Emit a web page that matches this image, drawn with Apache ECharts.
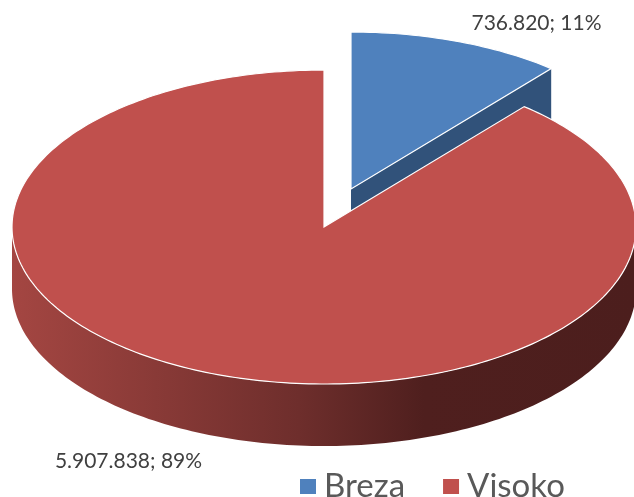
<!DOCTYPE html>
<html>
<head>
<meta charset="utf-8">
<script src="https://cdn.jsdelivr.net/npm/echarts@6/dist/echarts.min.js"></script>
<style>
html, body { margin: 0; padding: 0; background: #fff; }
#main { width: 634px; height: 497px; }
</style>
</head>
<body>
<div id="main"></div>
<script>
var names = ['Breza', 'Visoko'];
var values = [736820, 5907838];

// looks
var topColors = ['#4f81bd', '#c0504d'];
var cutColors = ['#31527a', '#6e2e2c'];
var explode = [[27, -38], [0, 0]];
var labelShift = [[79, -18], [-89, 87]];

var CX = 324, CY = 227, RX = 312, RY = 157, DEPTH = 62;
var PI = Math.PI;

var total = values.reduce(function (a, b) { return a + b; }, 0);

function fmt(v) {
    return String(v).replace(/\B(?=(\d{3})+(?!\d))/g, '.');
}

function pt(cx, cy, a, dy) {
    return [cx + RX * Math.sin(a), cy - RY * Math.cos(a) + (dy || 0)];
}

function arcPts(cx, cy, a0, a1, dy) {
    var n = Math.max(2, Math.ceil(Math.abs(a1 - a0) / 0.02));
    var out = [];
    for (var k = 0; k <= n; k++) {
        out.push(pt(cx, cy, a0 + (a1 - a0) * k / n, dy));
    }
    return out;
}

function wallFill(i) {
    if (i === 0) return cutColors[0];
    return new echarts.graphic.LinearGradient(0, 0, 1, 0, [
        {offset: 0, color: '#a44642'},
        {offset: 0.46, color: '#6e2e2c'},
        {offset: 0.66, color: '#4f1f1e'},
        {offset: 1, color: '#4c1e1d'}
    ]);
}

function makeRender(i) {
    return function (params, api) {
        var before = 0;
        for (var j = 0; j < i; j++) before += values[j];
        var a0 = before / total * 2 * PI;
        var a1 = (before + values[i]) / total * 2 * PI;
        var cx = CX + explode[i][0], cy = CY + explode[i][1];
        var children = [];

        // front wall
        var w0 = Math.max(a0, PI / 2), w1 = Math.min(a1, 3 * PI / 2);
        if (w1 > w0) {
            var up = arcPts(cx, cy, w0, w1, 0);
            var down = arcPts(cx, cy, w1, w0, DEPTH);
            children.push({
                type: 'polygon',
                shape: {points: up.concat(down)},
                style: {fill: wallFill(i)}
            });
        }
        // cut faces
        if (Math.sin(a1) > 1e-6) {
            var p = pt(cx, cy, a1, 0);
            children.push({
                type: 'polygon',
                shape: {points: [[cx, cy], p, [p[0], p[1] + DEPTH], [cx, cy + DEPTH]]},
                style: {fill: cutColors[i]}
            });
        }
        if (Math.sin(a0) < -1e-6) {
            var q = pt(cx, cy, a0, 0);
            children.push({
                type: 'polygon',
                shape: {points: [[cx, cy], q, [q[0], q[1] + DEPTH], [cx, cy + DEPTH]]},
                style: {fill: cutColors[i]}
            });
        }
        // top face
        children.push({
            type: 'polygon',
            shape: {points: [[cx, cy]].concat(arcPts(cx, cy, a0, a1, 0))},
            style: {fill: topColors[i], stroke: '#ffffff', lineWidth: 1.2}
        });
        // label
        var r = pt(cx, cy, (a0 + a1) / 2, 0);
        children.push({
            type: 'text',
            x: r[0] + labelShift[i][0],
            y: r[1] + labelShift[i][1],
            style: {
                text: fmt(values[i]) + '; ' + Math.round(values[i] / total * 100) + '%',
                fill: '#404040',
                font: '21px Lato',
                align: 'center',
                verticalAlign: 'middle'
            }
        });
        return {type: 'group', children: children};
    };
}

var myChart = echarts.init(document.getElementById('main'));

var option = {
    animation: false,
    legend: {
        data: names,
        left: 295,
        top: 465,
        icon: 'rect',
        itemWidth: 16,
        itemHeight: 15,
        itemGap: 38,
        selectedMode: false,
        textStyle: {
            fontSize: 33,
            fontFamily: 'Lato',
            color: '#595959',
            padding: [0, 0, 0, 3]
        }
    },
    series: names.map(function (name, i) {
        return {
            type: 'custom',
            name: name,
            coordinateSystem: 'none',
            silent: true,
            itemStyle: {color: topColors[i]},
            data: [[values[i]]],
            renderItem: makeRender(i)
        };
    })
};

myChart.setOption(option);
</script>
</body>
</html>
